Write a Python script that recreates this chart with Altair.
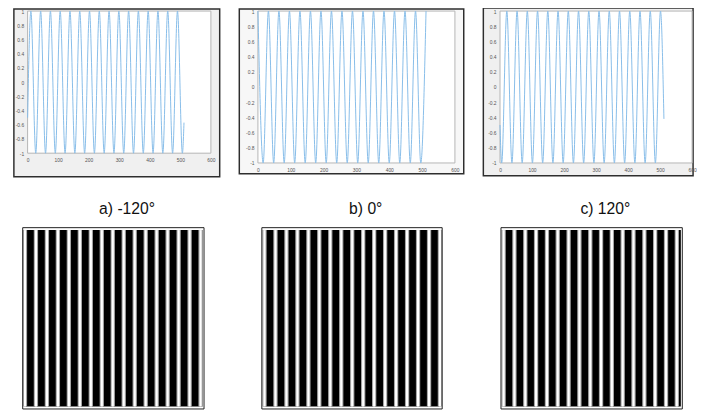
import altair as alt
import pandas as pd

# ---- top row: turning points of the three phase-shifted fringe signals
xa = [0, 10.7, 26.7, 42.7, 58.7, 74.7, 90.7, 106.7, 122.7, 138.7, 154.7, 170.7, 186.7,
      202.7, 218.7, 234.7, 250.7, 266.7, 282.7, 298.7, 314.7, 330.7, 346.7, 362.7,
      378.7, 394.7, 410.7, 426.7, 442.7, 458.7, 474.7, 490.7, 506.7, 512]
ya = [-0.5, 1, -1, 1, -1, 1, -1, 1, -1, 1, -1, 1, -1, 1, -1, 1, -1,
      1, -1, 1, -1, 1, -1, 1, -1, 1, -1, 1, -1, 1, -1, 1, -1, -0.57]

xb = [0, 16, 32, 48, 64, 80, 96, 112, 128, 144, 160, 176, 192, 208, 224, 240, 256,
      272, 288, 304, 320, 336, 352, 368, 384, 400, 416, 432, 448, 464, 480, 496, 512]
yb = [1, -1, 1, -1, 1, -1, 1, -1, 1, -1, 1, -1, 1, -1, 1, -1, 1,
      -1, 1, -1, 1, -1, 1, -1, 1, -1, 1, -1, 1, -1, 1, -1, 1]

xc = [0, 5.3, 21.3, 37.3, 53.3, 69.3, 85.3, 101.3, 117.3, 133.3, 149.3, 165.3, 181.3,
      197.3, 213.3, 229.3, 245.3, 261.3, 277.3, 293.3, 309.3, 325.3, 341.3, 357.3,
      373.3, 389.3, 405.3, 421.3, 437.3, 453.3, 469.3, 485.3, 501.3, 512]
yc = [-0.5, -1, 1, -1, 1, -1, 1, -1, 1, -1, 1, -1, 1, -1, 1, -1, 1,
      -1, 1, -1, 1, -1, 1, -1, 1, -1, 1, -1, 1, -1, 1, -1, 1, -0.42]

x_ticks = [0, 100, 200, 300, 400, 500, 600]
y_ticks = [-1, -0.8, -0.6, -0.4, -0.2, 0, 0.2, 0.4, 0.6, 0.8, 1]

# ---- bottom row: centres of the bright fringes in each pattern image (image pixel columns)
stripes_a = [2.3, 13.5, 24.7, 35.9, 47.1, 58.3, 69.5, 80.7, 91.9, 103.1, 114.3,
             125.5, 136.7, 147.9, 159.1, 170.3, 181.5]
stripes_b = [2.7, 13.9, 25.1, 36.3, 47.5, 58.6, 69.8, 81.0, 92.2, 103.4, 114.6,
             125.8, 137.0, 148.2, 159.4, 170.6, 181.7]
stripes_c = [2.7, 13.7, 24.8, 35.8, 46.9, 57.9, 69.0, 80.0, 91.1, 102.1, 113.1,
             124.2, 135.2, 146.3, 157.3, 168.4, 179.4]

titles = ["a) -120°", "b) 0°", "c) 120°"]

LINE_COLOR = "#86bce8"
one = pd.DataFrame({"k": [0]})


def wave_panel(xv, yv, W, H, fl, fr, ft, fb, fill):
    df = pd.DataFrame({"x": xv, "y": yv})
    xsc = alt.Scale(domain=[0, 600], nice=False, zero=False)
    ysc = alt.Scale(domain=[-1, 1], nice=False, zero=False)
    axis_common = dict(labelFontSize=5, labelColor="#555555", labelFont="Liberation Sans",
                       ticks=False, domain=False, grid=False, title=None,
                       labelFlush=False, labelOverlap=False, zindex=1,
                       labelExpr="'' + datum.value")
    frame = alt.Chart(one).mark_rect(fill=fill, stroke="#2e2e2e", strokeWidth=1.5).encode(
        x=alt.value(-fl), x2=alt.value(W + fr), y=alt.value(-ft), y2=alt.value(H + fb))
    plot_bg = alt.Chart(one).mark_rect(fill="white", stroke="#b4b4b4", strokeWidth=1).encode(
        x=alt.XDatum(0, type="quantitative", scale=xsc),
        x2=alt.X2Datum(600),
        y=alt.YDatum(-1, type="quantitative", scale=ysc),
        y2=alt.Y2Datum(1))
    line = alt.Chart(df).mark_line(interpolate="monotone", color=LINE_COLOR,
                                   strokeWidth=1).encode(
        x=alt.X("x:Q", scale=xsc,
                axis=alt.Axis(values=x_ticks, tickCount=len(x_ticks), labelPadding=5,
                              **axis_common)),
        y=alt.Y("y:Q", scale=ysc,
                axis=alt.Axis(values=y_ticks, tickCount=len(y_ticks), labelPadding=4,
                              **axis_common)))
    return alt.layer(frame, plot_bg, line).properties(width=W, height=H)


def image_panel(centers, W, H, title, shift):
    # shift: horizontal offset (px) of the image relative to the panel origin
    df = pd.DataFrame({"c": centers})
    xsc = alt.Scale(domain=[-shift, W - shift], nice=False, zero=False)
    ysc = alt.Scale(domain=[0, H], nice=False, zero=False)
    layers = []
    layers.append(alt.Chart(one).mark_rect(color="black").encode(
        x=alt.XDatum(1.5, type="quantitative", scale=xsc, axis=None),
        x2=alt.X2Datum(W - 1.5),
        y=alt.YDatum(2.5, type="quantitative", scale=ysc, axis=None),
        y2=alt.Y2Datum(H - 2.5)))
    halo = alt.Chart(df).transform_calculate(l="datum.c - 2.2", r="datum.c + 2.2")
    layers.append(halo.mark_rect(color="#a6a6a6").encode(
        x=alt.X("l:Q", scale=xsc, axis=None), x2="r:Q",
        y=alt.YDatum(2.5, type="quantitative", scale=ysc, axis=None),
        y2=alt.Y2Datum(H - 2.5)))
    core = alt.Chart(df).transform_calculate(l="datum.c - 1.1", r="datum.c + 1.1")
    layers.append(core.mark_rect(color="white").encode(
        x=alt.X("l:Q", scale=xsc, axis=None), x2="r:Q",
        y=alt.YDatum(2.5, type="quantitative", scale=ysc, axis=None),
        y2=alt.Y2Datum(H - 2.5)))
    # image border drawn on top
    layers.append(alt.Chart(one).mark_rect(fillOpacity=0, stroke="#1e1e1e",
                                           strokeWidth=1).encode(
        x=alt.XDatum(0, type="quantitative", scale=xsc, axis=None),
        x2=alt.X2Datum(W),
        y=alt.YDatum(0, type="quantitative", scale=ysc, axis=None),
        y2=alt.Y2Datum(H)))
    return alt.layer(*layers).properties(
        width=W, height=H,
        view=alt.ViewBackground(fill=None, stroke=None),
        title=alt.TitleParams(title, fontSize=16, font="Liberation Sans", fontWeight="normal",
                              color="#111111", offset=10, dx=14 + shift, anchor="middle"))


top = alt.hconcat(
    wave_panel(xa, ya, 187, 145, 14, 9, 2, 24, "#f0f0f0"),
    wave_panel(xb, yb, 201, 155, 19, 9, 2, 11, "#f7f7f7"),
    wave_panel(xc, yc, 196, 155, 17, 1, 3, 13, "#f0f0f0"),
    spacing=16)

bottom = alt.hconcat(
    image_panel(stripes_a, 185, 185, titles[0], -5),
    image_panel(stripes_b, 184, 185, titles[1], 0),
    image_panel(stripes_c, 185, 185, titles[2], 6),
    spacing=53)

chart = alt.vconcat(top, bottom, spacing=23).properties(
    padding={"left": 4, "top": -6, "right": 0, "bottom": 0}
).configure_view(stroke=None).configure(background="white")

chart.save("out.html", embed_options={"renderer": "svg", "actions": False})
